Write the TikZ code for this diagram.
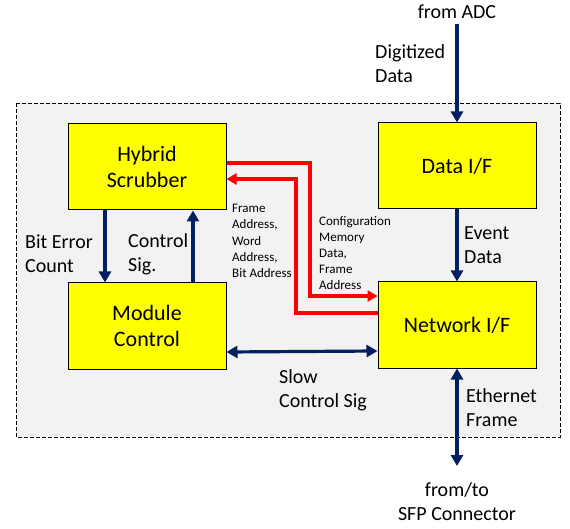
\documentclass[tikz,border=0pt]{standalone}
\usepackage{fontspec}
\setmainfont{Carlito}
\usetikzlibrary{arrows.meta,positioning}
\definecolor{navy}{HTML}{002060}
\definecolor{sig}{HTML}{FF0000}
\definecolor{pale}{HTML}{F2F2F2}
\definecolor{blkfill}{HTML}{FFFF00}
\begin{document}
\begin{tikzpicture}[x=1pt,y=-1pt,
  every node/.style={align=center},
  blk/.style={draw=black,line width=1pt,fill=blkfill,minimum width=158pt,
    minimum height=86pt,font=\fontsize{22}{26.4}\selectfont},
  lbl/.style={anchor=west,align=left,inner sep=0pt,font=\fontsize{20}{24}\selectfont},
  ttl/.style={align=center,inner sep=0pt,font=\fontsize{20}{24}\selectfont},
  small/.style={anchor=west,align=left,inner sep=0pt,font=\fontsize{13}{16.2}\selectfont},
  arr/.style={-{Triangle[length=11pt,width=12pt]},line width=3.2pt,navy},
  darr/.style={{Triangle[length=11pt,width=12pt]}-{Triangle[length=11pt,width=12pt]},line width=3.2pt,navy},
  rarr/.style={-{Triangle[length=10pt,width=11pt]},line width=3.2pt,sig}
]
\useasboundingbox (0,0) rectangle (570,529);
\draw[dash pattern=on 4pt off 2pt,fill=pale] (16,103) rectangle (560,437);

\node[blk] (hyb) at (147,167) {Hybrid\\Scrubber};
\node[blk] (mod) at (147,326) {Module\\Control};
\node[blk] (dat) at (457,166) {Data I/F};
\node[blk] (net) at (457,325) {Network I/F};

\node[ttl] (adc) at (457,12) {from ADC};
\node[ttl] (sfp) at (457,502) {from/to\\SFP Connector};
\coordinate (adcout) at (457,24);
\coordinate (sfpin) at (457,466);

\draw[arr] (adcout) -- (dat.north);
\draw[arr] (dat.south) -- (net.north);
\draw[darr] (net.south) -- (sfpin);
\draw[arr] ([xshift=-42pt]hyb.south) -- ([xshift=-42pt]mod.north);
\draw[arr] ([xshift=46pt]mod.north) -- ([xshift=46pt]hyb.south);
\draw[darr] ([yshift=-26pt]mod.east) -- ([yshift=-26pt]net.west);
\draw[rarr] ([yshift=4pt]hyb.east) -- (310,163) |- ([yshift=29pt]net.west);
\draw[rarr] ([yshift=12pt]net.west) -- (296,313) |- ([yshift=-12pt]hyb.east);

\node[lbl] (dig) at (375,64) {Digitized\\Data};
\node[lbl] (evt) at (464,245) {Event\\Data};
\node[lbl] (eth) at (466,408) {Ethernet\\Frame};
\node[lbl] (bec) at (25,254) {Bit Error\\Count};
\node[lbl] (csg) at (128,254) {Control\\Sig.};
\node[lbl] (slw) at (279,390) {Slow\\Control Sig};
\node[small] (adr) at (232,241) {Frame\\Address,\\Word\\Address,\\Bit Address};
\node[small] (cfg) at (319,253) {Configuration\\Memory\\Data,\\Frame\\Address};
\end{tikzpicture}
\end{document}
